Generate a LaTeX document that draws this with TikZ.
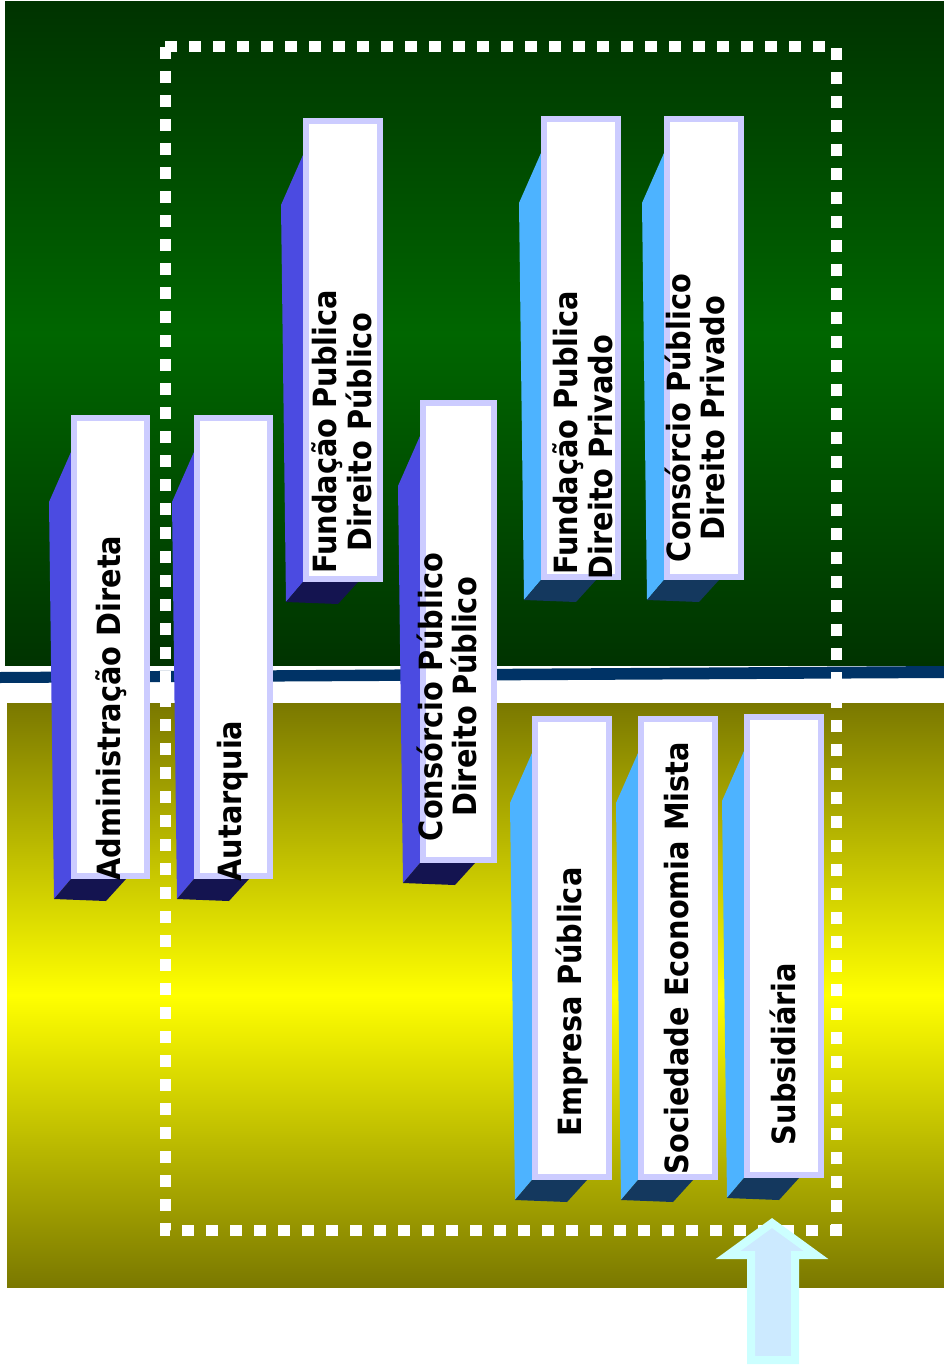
\documentclass[tikz,border=0pt]{standalone}
\usepackage{fontspec}
\usepackage[dvipsnames]{xcolor}
\usepackage{tikz}
\newfontfamily\barfont{DejaVu Sans Condensed}[BoldFont={DejaVu Sans Condensed Bold}]
\definecolor{greendark}{RGB}{0,51,0}
\definecolor{greenmid}{RGB}{0,102,0}
\definecolor{olivedark}{RGB}{122,120,0}
\definecolor{yellowmid}{RGB}{255,255,0}
\definecolor{bandnavy}{RGB}{0,51,102}
\definecolor{facelav}{RGB}{204,204,255}
\definecolor{sideblue}{RGB}{75,75,225}
\definecolor{botblue}{RGB}{20,20,80}
\definecolor{sidesky}{RGB}{77,179,255}
\definecolor{botsky}{RGB}{20,56,94}
\definecolor{arrowfill}{RGB}{204,234,255}
\definecolor{arrowedge}{RGB}{204,255,255}
\pgfdeclareverticalshading{greenfade}{100bp}{color(0bp)=(greendark); color(25bp)=(greendark); color(50bp)=(greenmid); color(75bp)=(greendark); color(100bp)=(greendark)}
\pgfdeclareverticalshading{yellowfade}{100bp}{color(0bp)=(olivedark); color(25bp)=(olivedark); color(50bp)=(yellowmid); color(75bp)=(olivedark); color(100bp)=(olivedark)}

\begin{document}
\begin{tikzpicture}[x=0.75pt,y=0.75pt,yscale=-1,xscale=1,
  face/.style={draw=facelav,fill=white,line width=4.5pt},
  barlabel/.style={rotate=90,inner sep=0pt,align=center,
    font=\barfont\bfseries\fontsize{24pt}{26pt}\selectfont}]
\useasboundingbox (0,0) rectangle (944,1366);

%Shape: Rectangle (green band)
\shade [shading=greenfade] (5,2) rectangle (944,665);
%Shape: Rectangle (yellow band)
\shade [shading=yellowfade] (7,703) rectangle (944,1287);
%Shape: Polygon (divider)
\fill [bandnavy] (0,672) -- (944,666) -- (944,678) -- (0,683) -- cycle;
%Shape: Rectangle (dotted frame)
\draw [white,line width=8.25pt,dash pattern=on 9pt off 9pt] (165,47) rectangle (836,1230);

%Shape: Bar (Administracao Direta)
\fill [sideblue] (71,879) -- ++(-17,20) -- ++(-5,-397) -- ++(22,-50) -- cycle;
\fill [botblue] (71,879) -- ++(-17,20) -- ++(52,2) -- ++(20,-22) -- cycle;
\draw [face] (74,418) rectangle (147,876);
%Shape: Bar (Autarquia)
\fill [sideblue] (194,879) -- ++(-17,20) -- ++(-5,-397) -- ++(22,-50) -- cycle;
\fill [botblue] (194,879) -- ++(-17,20) -- ++(52,2) -- ++(20,-22) -- cycle;
\draw [face] (197,418) rectangle (270,876);
%Shape: Bar (Fundacao Direito Publico)
\fill [sideblue] (303,582) -- ++(-17,20) -- ++(-5,-397) -- ++(22,-50) -- cycle;
\fill [botblue] (303,582) -- ++(-17,20) -- ++(52,2) -- ++(20,-22) -- cycle;
\draw [face] (306,121) rectangle (380,579);
%Shape: Bar (Consorcio Direito Publico)
\fill [sideblue] (420,863) -- ++(-17,20) -- ++(-5,-397) -- ++(22,-50) -- cycle;
\fill [botblue] (420,863) -- ++(-17,20) -- ++(52,2) -- ++(20,-22) -- cycle;
\draw [face] (423,403) rectangle (494,860);
%Shape: Bar (Fundacao Direito Privado)
\fill [sidesky] (541,580) -- ++(-17,20) -- ++(-5,-397) -- ++(22,-50) -- cycle;
\fill [botsky] (541,580) -- ++(-17,20) -- ++(52,2) -- ++(20,-22) -- cycle;
\draw [face] (544,119) rectangle (618,577);
%Shape: Bar (Consorcio Direito Privado)
\fill [sidesky] (664,580) -- ++(-17,20) -- ++(-5,-397) -- ++(22,-50) -- cycle;
\fill [botsky] (664,580) -- ++(-17,20) -- ++(52,2) -- ++(20,-22) -- cycle;
\draw [face] (667,119) rectangle (741,577);
%Shape: Bar (Empresa Publica)
\fill [sidesky] (532,1180) -- ++(-17,20) -- ++(-5,-397) -- ++(22,-50) -- cycle;
\fill [botsky] (532,1180) -- ++(-17,20) -- ++(52,2) -- ++(20,-22) -- cycle;
\draw [face] (535,719) rectangle (609,1177);
%Shape: Bar (Sociedade Economia Mista)
\fill [sidesky] (638,1180) -- ++(-17,20) -- ++(-5,-397) -- ++(22,-50) -- cycle;
\fill [botsky] (638,1180) -- ++(-17,20) -- ++(52,2) -- ++(20,-22) -- cycle;
\draw [face] (641,719) rectangle (715,1177);
%Shape: Bar (Subsidiaria)
\fill [sidesky] (744,1178) -- ++(-17,20) -- ++(-5,-397) -- ++(22,-50) -- cycle;
\fill [botsky] (744,1178) -- ++(-17,20) -- ++(52,2) -- ++(20,-22) -- cycle;
\draw [face] (747,717) rectangle (821,1175);

%Shape: Up Arrow
\draw [draw=arrowedge,fill=arrowfill,line width=6pt] (772,1223) -- (816,1255) -- (795,1255) -- (795,1360) -- (751,1360) -- (751,1255) -- (728,1255) -- cycle;

% Text Node
\node [barlabel] (adm) at (111,708) {Administração Direta};
% Text Node
\node [barlabel] (aut) at (233,801) {Autarquia};
% Text Node
\node [barlabel] (fundpub) at (342,432) {Fundação Publica\\Direito Público};
% Text Node
\node [barlabel] (conspub) at (447,697) {Consórcio Público\\Direito Público};
% Text Node
\node [barlabel] (fundpriv) at (583,433) {Fundação Publica\\Direito Privado\hspace*{36pt}};
% Text Node
\node [barlabel] (conspriv) at (695,418) {Consórcio Público\\Direito Privado};
% Text Node
\node [barlabel] (emp) at (572,1002) {Empresa Pública};
% Text Node
\node [barlabel] (soc) at (677,958) {Sociedade Economia Mista};
% Text Node
\node [barlabel] (sub) at (783,1054) {Subsidiária};
\end{tikzpicture}
\end{document}
